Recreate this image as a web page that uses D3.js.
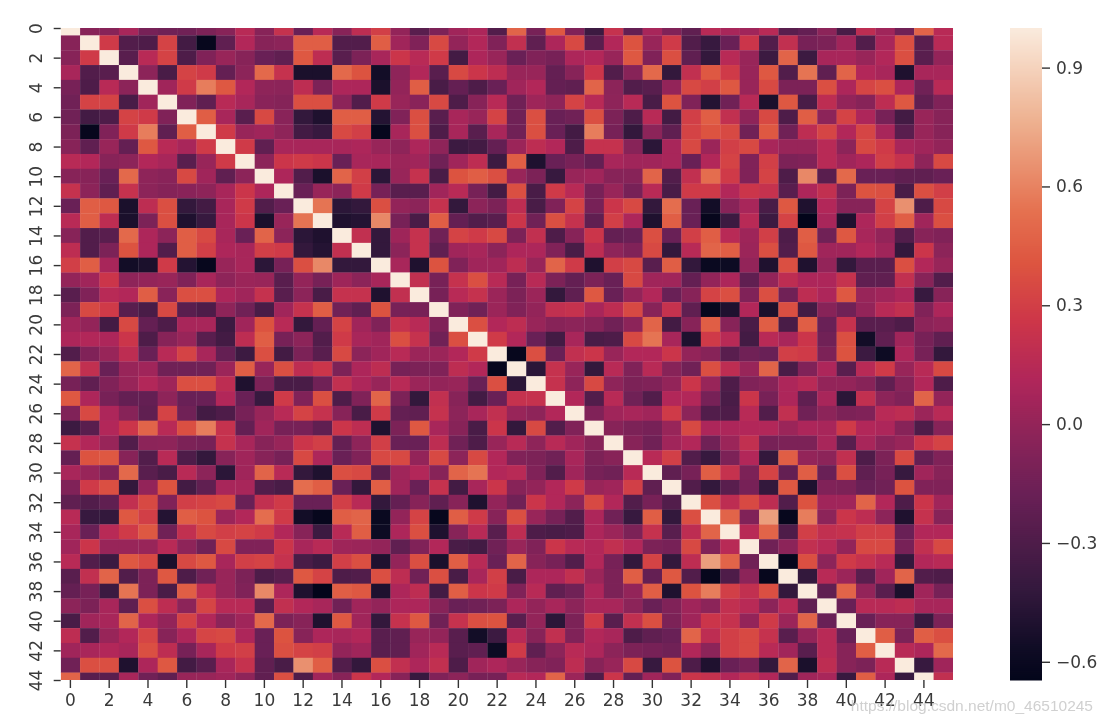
<!DOCTYPE html>
<html><head><meta charset="utf-8">
<script src="https://cdn.jsdelivr.net/npm/d3@7"></script>
<style>html,body{margin:0;padding:0;background:#fff}svg{display:block;filter:blur(.6px)}
text{font-family:"DejaVu Sans",sans-serif}</style></head><body><div id="c"></div>
<script>
// Upper triangle of the matrix, in hundredths: row r lists columns r..45
const corrUpper = [
[100,-5,-5,8,-12,-15,-15,-10,-5,15,-5,22,-18,15,-5,18,30,0,-25,-10,5,10,-28,48,-12,42,-8,-38,22,-20,8,-8,-22,15,8,5,15,-25,-20,-3,-32,18,5,-15,48,15],
[100,28,-28,-30,32,-35,-62,-22,12,-5,-3,45,45,-28,-28,45,5,-8,35,0,12,-8,20,-22,10,35,-25,12,40,2,28,-28,-40,-18,25,-28,20,-12,-10,5,-28,8,38,-25,15],
[100,-25,15,32,-30,-8,2,-5,-18,-22,42,18,-25,-10,8,25,15,28,-35,10,2,-18,-8,-12,10,12,2,42,-8,38,-22,-42,15,2,-38,48,-38,8,8,2,12,38,-25,0],
[100,-3,-32,32,28,-20,-3,50,22,-52,-52,50,40,-55,-2,12,-25,35,25,18,2,2,-20,-5,25,-28,-5,50,-42,20,42,28,2,42,-28,55,-22,48,12,8,-50,8,8],
[100,5,28,58,42,12,-2,-3,18,-10,10,10,-52,0,45,-32,-20,-30,-18,5,12,-20,-22,48,-3,-28,-25,0,35,30,42,2,35,-10,-10,38,10,33,38,10,-15,15],
[100,-8,-22,15,8,-4,-6,38,38,-3,-28,28,2,-4,35,-30,-5,15,-15,4,-2,32,15,-2,15,-32,40,-8,-48,-15,15,-52,42,-32,18,0,-5,18,42,-22,-8],
[100,45,8,-25,35,-4,-42,-50,45,45,-48,-8,38,-25,8,2,32,-15,38,-18,-15,38,-10,-30,15,-35,30,45,20,-2,35,-30,45,-3,32,10,-12,-35,2,-5],
[100,28,2,5,-2,-35,-40,35,30,-62,8,38,-30,8,-25,8,-15,38,-18,-35,58,-12,-42,-3,-22,32,40,35,-15,42,-15,18,33,12,33,8,-25,2,-5],
[100,28,-22,8,8,8,8,10,2,-2,10,-2,-38,-35,-20,3,18,12,-30,22,22,-5,-45,8,35,3,30,35,8,2,2,15,-3,35,28,8,5,0],
[100,-3,25,28,25,-18,8,8,3,5,-15,5,18,-38,45,-50,-18,-12,-20,8,5,5,8,-18,12,32,-8,30,-10,-8,15,5,10,30,22,-2,35],
[100,10,-28,-52,48,30,-45,2,22,-32,40,45,38,2,-10,-40,2,5,-5,-5,48,-28,20,52,28,-8,32,-30,62,-25,50,-18,-18,-22,-22,-18],
[100,-18,2,-3,28,-12,-25,-25,5,15,-12,-35,38,-32,28,15,-12,2,-12,15,-32,28,28,12,25,22,-25,10,20,-10,40,38,-32,38,30],
[100,55,-45,-42,38,0,-3,22,-42,-3,-10,18,-32,-8,32,-12,25,35,-42,52,-18,-55,-5,8,-32,42,-50,12,-5,-5,32,65,-30,35],
[100,-50,-48,62,-12,-32,45,-20,-28,-25,25,-15,38,22,-22,30,10,-50,45,-18,-62,-38,15,-38,32,-65,8,-50,10,30,45,5,38],
[100,20,-42,4,22,-15,32,28,35,-10,20,-30,-5,25,-20,-18,38,-18,30,45,15,4,30,-30,45,-15,42,8,0,-28,-5,-8],
[100,-42,-3,22,-22,5,8,-3,10,10,-8,-32,18,-2,-8,35,-42,15,48,45,3,38,-28,42,5,5,12,5,-42,25,-3],
[100,8,-50,40,-8,5,5,18,2,48,28,-50,30,35,-25,45,-42,-60,-58,0,-50,38,-50,0,-42,-25,-25,38,12,2],
[100,20,-12,22,38,15,-12,15,-10,-20,-10,-18,35,5,5,-20,0,10,-22,0,18,10,10,22,-22,-22,20,-5,-28],
[100,-12,15,22,3,-10,3,-42,-22,42,-18,0,12,-18,-5,32,38,-8,38,-15,18,10,42,2,5,10,-40,-5],
[100,-8,-15,3,-8,0,20,22,8,18,35,-5,22,-22,-62,-50,12,-52,38,-35,-5,-15,0,15,20,-8,10],
[100,38,12,18,2,-5,-3,-5,-15,-3,48,-35,-5,45,-5,-32,45,-32,45,-18,22,-25,-25,-30,-3,0],
[100,28,12,-18,-35,8,-32,-30,35,55,8,-50,28,15,-35,15,8,25,-15,38,-55,-22,5,-12,-22],
[100,-62,38,-18,20,25,2,12,12,25,0,-5,-25,-15,-18,30,28,-10,40,-38,-58,10,-12,-42],
[100,-45,22,2,-42,15,-8,15,-5,-15,38,18,2,48,-32,-8,10,-25,15,28,2,15,35],
[100,22,-2,35,-2,-10,-8,0,25,2,-30,-8,-5,10,15,0,0,-5,-22,-5,12,-30],
[100,12,-28,15,-15,-28,12,12,-12,-32,25,-12,10,-22,8,-45,20,-3,-8,48,0],
[100,-8,5,8,5,28,-3,-28,-30,15,-28,20,-15,-3,-10,-8,15,18,3,15],
[100,-5,-10,-12,2,35,10,10,12,12,3,10,8,28,12,10,-5,-30,-5],
[100,-5,-15,5,12,-15,3,20,-12,-10,-10,8,-25,8,-3,2,25,32],
[100,15,30,-28,-40,-10,12,-42,45,0,-3,20,-30,-10,35,-20,-8],
[100,-22,-12,45,22,-10,32,-20,45,-18,38,-22,-12,-40,5,-5],
[100,-28,-42,-25,-12,-42,42,-50,-8,-10,-18,-15,40,-8,-8],
[100,38,18,35,18,-28,40,5,5,48,12,-30,25,5],
[100,48,-8,70,-62,58,-3,25,18,-3,-50,22,-5],
[100,15,48,-30,30,20,22,30,30,-18,12,12],
[100,-15,-3,20,15,0,35,35,-12,20,35],
[100,-62,38,-3,28,22,15,-42,12,15],
[100,-42,15,3,-25,5,48,-28,-30],
[100,-22,48,0,-25,-52,5,-12],
[100,-18,15,15,18,8,8],
[100,-18,-5,-5,-40,-10],
[100,45,-10,45,38],
[100,15,10,50],
[100,-40,5],
[100,20]
];
const rowCount = 45, colCount = 46;
const axisTicks = d3.range(0, 45, 2);
const barTicks = [-0.6, -0.3, 0, 0.3, 0.6, 0.9];
const vMin = -0.646, vMax = 1;
const colorPositions = [0, .05, .143, .286, .38, .46, .55, .64, .72, .86, 1];
const colorStops = ["#03051a","#100c25","#35193e","#6a2056","#8e2459","#b0265a","#cd3649","#dd5540","#e57150","#eeb291","#faebdd"];
const watermark = "https://blog.csdn.net/m0_46510245";

const get = (r, c) => (c >= r ? corrUpper[r][c - r] : corrUpper[c][r - c]) / 100;
const color = d3.scaleLinear()
  .domain(colorPositions.map(t => vMin + t * (vMax - vMin)))
  .range(colorStops).clamp(true);

const svg = d3.select("#c").append("svg").attr("width", 1102).attr("height", 724);
const L = 60.7, R = 953, T = 28, B = 680;
const x = d3.scaleBand().domain(d3.range(colCount)).range([L, R]);
const y = d3.scaleLinear().domain([0, rowCount - 1]).range([T, B]);
const rowH = y(1) - y(0);

svg.append("clipPath").attr("id", "plot").append("rect")
  .attr("x", L).attr("y", T).attr("width", R - L).attr("height", B - T);
const cells = [];
d3.range(rowCount).forEach(r => d3.range(colCount).forEach(c => cells.push({r, c, v: get(r, c)})));
svg.append("g").attr("clip-path", "url(#plot)").selectAll("rect").data(cells).join("rect")
  .attr("x", d => x(d.c)).attr("y", d => y(d.r) - rowH / 2)
  .attr("width", x.bandwidth() + .3).attr("height", rowH + .3)
  .attr("fill", d => color(d.v));

function styleAxis(g) {
  g.select(".domain").remove();
  g.selectAll(".tick line").attr("stroke", "#333").attr("stroke-width", 1.4);
  g.selectAll(".tick text").attr("fill", "#3a3a3a").style("font-size", "17px").style("font-family", '"DejaVu Sans",sans-serif');
}
const xAxis = svg.append("g").attr("transform", `translate(0,${B})`)
  .call(d3.axisBottom(x).tickValues(axisTicks).tickSize(8).tickPadding(6));
styleAxis(xAxis);
const yAxis = svg.append("g").attr("transform", `translate(${L},0)`)
  .call(d3.axisLeft(y).tickValues(axisTicks).tickSize(7).tickPadding(5));
styleAxis(yAxis);
yAxis.selectAll(".tick text").attr("transform", "rotate(-90)")
  .attr("text-anchor", "middle").attr("x", 0).attr("y", -25).attr("dy", "0.35em");

// colour bar
const barL = 1010, barW = 32;
const barY = d3.scaleLinear().domain([vMin, vMax]).range([B, T]);
const steps = d3.range(0, 326);
svg.append("g").selectAll("rect").data(steps).join("rect")
  .attr("x", barL).attr("width", barW)
  .attr("y", i => B - (i + 1) * (B - T) / 326).attr("height", (B - T) / 326 + .5)
  .attr("fill", i => color(vMin + (i + .5) / 326 * (vMax - vMin)));
const barAxis = svg.append("g").attr("transform", `translate(${barL + barW},0)`)
  .call(d3.axisRight(barY).tickValues(barTicks).tickSize(8).tickPadding(6)
    .tickFormat(d => d3.format(".1f")(d).replace("-", "\u2212")));
styleAxis(barAxis);

svg.append("text").attr("x", 1093).attr("y", 711).attr("text-anchor", "end")
  .attr("fill", "#c4c4c4").attr("fill-opacity", .8)
  .style("font-family", '"Liberation Sans",sans-serif').style("font-size", "15.5px")
  .text(watermark);
</script></body></html>
